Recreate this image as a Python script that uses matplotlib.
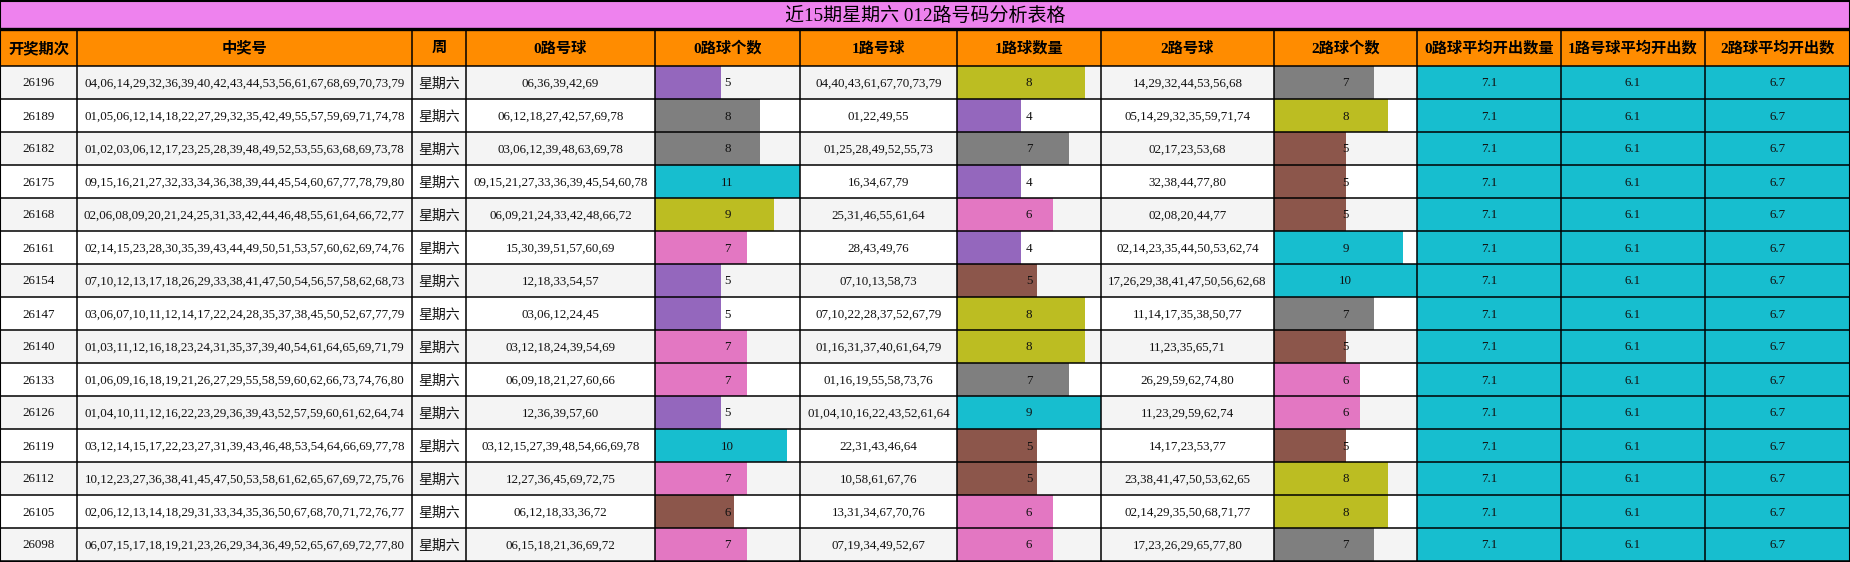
import matplotlib
matplotlib.use("Agg")
import matplotlib.pyplot as plt
import numpy as np

title = "近15期星期六 012路号码分析表格"
headers = ["开奖期次", "中奖号", "周", "0路号球", "0路球个数", "1路号球", "1路球数量",
           "2路号球", "2路球个数", "0路球平均开出数量", "1路号球平均开出数", "2路球平均开出数"]

periods = ["26196", "26189", "26182", "26175", "26168", "26161", "26154", "26147",
           "26140", "26133", "26126", "26119", "26112", "26105", "26098"]
draws = [
    "04,06,14,29,32,36,39,40,42,43,44,53,56,61,67,68,69,70,73,79",
    "01,05,06,12,14,18,22,27,29,32,35,42,49,55,57,59,69,71,74,78",
    "01,02,03,06,12,17,23,25,28,39,48,49,52,53,55,63,68,69,73,78",
    "09,15,16,21,27,32,33,34,36,38,39,44,45,54,60,67,77,78,79,80",
    "02,06,08,09,20,21,24,25,31,33,42,44,46,48,55,61,64,66,72,77",
    "02,14,15,23,28,30,35,39,43,44,49,50,51,53,57,60,62,69,74,76",
    "07,10,12,13,17,18,26,29,33,38,41,47,50,54,56,57,58,62,68,73",
    "03,06,07,10,11,12,14,17,22,24,28,35,37,38,45,50,52,67,77,79",
    "01,03,11,12,16,18,23,24,31,35,37,39,40,54,61,64,65,69,71,79",
    "01,06,09,16,18,19,21,26,27,29,55,58,59,60,62,66,73,74,76,80",
    "01,04,10,11,12,16,22,23,29,36,39,43,52,57,59,60,61,62,64,74",
    "03,12,14,15,17,22,23,27,31,39,43,46,48,53,54,64,66,69,77,78",
    "10,12,23,27,36,38,41,45,47,50,53,58,61,62,65,67,69,72,75,76",
    "02,06,12,13,14,18,29,31,33,34,35,36,50,67,68,70,71,72,76,77",
    "06,07,15,17,18,19,21,23,26,29,34,36,49,52,65,67,69,72,77,80",
]
weekday = "星期六"
road0 = ["06,36,39,42,69", "06,12,18,27,42,57,69,78", "03,06,12,39,48,63,69,78",
         "09,15,21,27,33,36,39,45,54,60,78", "06,09,21,24,33,42,48,66,72",
         "15,30,39,51,57,60,69", "12,18,33,54,57", "03,06,12,24,45",
         "03,12,18,24,39,54,69", "06,09,18,21,27,60,66", "12,36,39,57,60",
         "03,12,15,27,39,48,54,66,69,78", "12,27,36,45,69,72,75",
         "06,12,18,33,36,72", "06,15,18,21,36,69,72"]
road1 = ["04,40,43,61,67,70,73,79", "01,22,49,55", "01,25,28,49,52,55,73",
         "16,34,67,79", "25,31,46,55,61,64", "28,43,49,76", "07,10,13,58,73",
         "07,10,22,28,37,52,67,79", "01,16,31,37,40,61,64,79",
         "01,16,19,55,58,73,76", "01,04,10,16,22,43,52,61,64",
         "22,31,43,46,64", "10,58,61,67,76", "13,31,34,67,70,76",
         "07,19,34,49,52,67"]
road2 = ["14,29,32,44,53,56,68", "05,14,29,32,35,59,71,74", "02,17,23,53,68",
         "32,38,44,77,80", "02,08,20,44,77", "02,14,23,35,44,50,53,62,74",
         "17,26,29,38,41,47,50,56,62,68", "11,14,17,35,38,50,77",
         "11,23,35,65,71", "26,29,59,62,74,80", "11,23,29,59,62,74",
         "14,17,23,53,77", "23,38,41,47,50,53,62,65",
         "02,14,29,35,50,68,71,77", "17,23,26,29,65,77,80"]
cnt0 = [5, 8, 8, 11, 9, 7, 5, 5, 7, 7, 5, 10, 7, 6, 7]
cnt1 = [8, 4, 7, 4, 6, 4, 5, 8, 8, 7, 9, 5, 5, 6, 6]
cnt2 = [7, 8, 5, 5, 5, 9, 10, 7, 5, 6, 6, 5, 8, 8, 7]
avg0 = 7.1
avg1 = 6.1
avg2 = 6.7

# layout in pixels
W, H = 1850, 562
edges = [0, 77, 412, 466, 655, 800, 957, 1101, 1274, 1417, 1561, 1705, 1850]
title_h = 29
head_bot = 66
row_h = 33
n = len(periods)

fam = ["Liberation Serif", "Noto Sans CJK SC", "DejaVu Sans"]
cjk = ["Noto Sans CJK SC", "DejaVu Sans"]

fig = plt.figure(figsize=(W / 100, H / 100), dpi=100)
ax = fig.add_axes([0, 0, 1, 1])
ax.set_xlim(0, W)
ax.set_ylim(H, 0)
ax.axis("off")

yc = head_bot + row_h * (np.arange(n) + 0.5)

# title + header backgrounds
ax.barh([title_h / 2], [W], left=0, height=title_h, color="#ee82ee")
ax.barh([(title_h + head_bot) / 2], [W], left=0, height=head_bot - title_h, color="#ff8c00")

# row stripes
stripe = ["#f4f4f4" if i % 2 == 0 else "white" for i in range(n)]
ax.barh(yc, [W] * n, left=0, height=row_h, color=stripe)
# average columns
ax.barh(yc, [W - edges[9]] * n, left=edges[9], height=row_h, color="#17becf")

# data bars
cmap = plt.get_cmap("tab10")
for col, cnt in [(4, cnt0), (6, cnt1), (8, cnt2)]:
    v = np.array(cnt) / max(cnt)
    x0, x1 = edges[col], edges[col + 1]
    ax.barh(yc, v * (x1 - x0), left=x0, height=row_h, color=cmap(v))

ax.text(W / 2, title_h / 2 + 1, title, ha="center", va="center",
        fontsize=13.7, family=fam)

for j, h in enumerate(headers):
    cx = (edges[j] + edges[j + 1]) / 2
    ax.text(cx, (title_h + head_bot) / 2 + 1, h, ha="center", va="center",
            fontsize=11, fontweight="bold", family=fam)

for i in range(n):
    row = [periods[i], draws[i], weekday, road0[i], str(cnt0[i]), road1[i],
           str(cnt1[i]), road2[i], str(cnt2[i]), str(avg0), str(avg1), str(avg2)]
    for j, s in enumerate(row):
        cx = (edges[j] + edges[j + 1]) / 2
        f = cjk if j == 2 else fam
        fs = 10 if j == 2 else 9.4
        ax.text(cx, yc[i] + 1, s, ha="center", va="center", fontsize=fs,
                family=f, color="#111111")

# grid lines
lw = 1.1
for x in edges:
    ax.plot([x, x], [title_h, H], color="black", lw=lw)
for k in range(n + 1):
    y = head_bot + row_h * k
    ax.plot([0, W], [y, y], color="black", lw=lw)
ax.plot([0, W], [title_h, title_h], color="black", lw=2.4)
ax.plot([0, W, W, 0, 0], [0.5, 0.5, H - 0.5, H - 0.5, 0.5], color="black", lw=1.5)

fig.savefig("out.png", dpi=100)
